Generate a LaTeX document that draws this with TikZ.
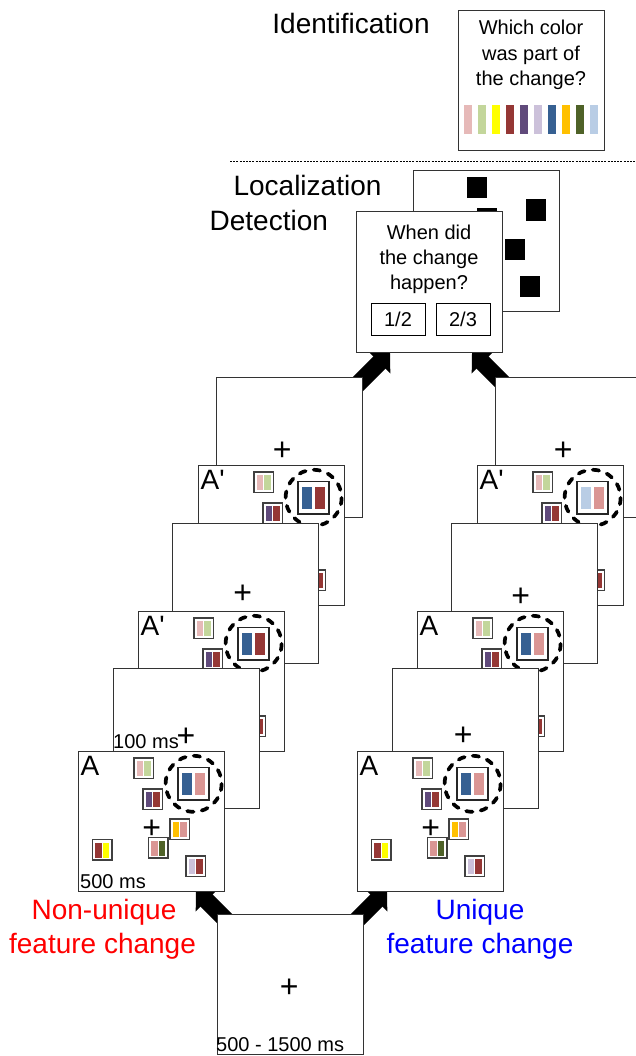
\documentclass[tikz,border=0pt]{standalone}
\usepackage{fontspec}
\setmainfont{Liberation Sans}[Ligatures=TeXOff]
\usetikzlibrary{arrows.meta}
\definecolor{pinkL}{HTML}{E6B9B8}
\definecolor{greenL}{HTML}{C3D69B}
\definecolor{yell}{HTML}{FFFF00}
\definecolor{dred}{HTML}{953735}
\definecolor{purp}{HTML}{604A7B}
\definecolor{lav}{HTML}{CCC1DA}
\definecolor{blueD}{HTML}{366092}
\definecolor{orng}{HTML}{FFC000}
\definecolor{olive}{HTML}{4F6228}
\definecolor{blueL}{HTML}{B9CDE5}
\definecolor{pinkD}{HTML}{DA9694}
\definecolor{lblue}{HTML}{0000FF}
\definecolor{lred}{HTML}{FF0000}
\tikzset{
  frame/.style={draw=black!80, line width=1pt, fill=white, minimum width=146pt, minimum height=140pt, inner sep=0pt, outer sep=0pt, anchor=north west},
  sqb/.style={draw=black!75, line width=1.2pt, fill=white},
  bigb/.style={draw=black!85, line width=1.1pt, fill=white},
  dcirc/.style={draw=black, line width=3.7pt, line cap=round, dash pattern=on 6.4pt off 8.26pt},
  lbl/.style={font=\fontsize{28}{30}\selectfont, inner sep=0pt, anchor=base west},
  big/.style={font=\fontsize{28}{30}\selectfont, inner sep=0pt, anchor=base},
  small/.style={font=\fontsize{20}{24}\selectfont, inner sep=0pt, anchor=base},
  smallw/.style={font=\fontsize{20}{24}\selectfont, inner sep=0pt, anchor=base west},
  plus/.style={font=\fontsize{32}{34}\selectfont, inner sep=0pt, yshift=-1.8pt},
  btn/.style={draw=black, line width=1pt, minimum width=54pt, minimum height=32pt, inner sep=0pt, font=\fontsize{20}{24}\selectfont},
  bigarrow/.style={line width=17pt, draw=black, -{Triangle[width=30pt,length=15pt]}},
  dotline/.style={draw=black, line width=0.8pt, dash pattern=on 2pt off 1.2pt},
}
\newcommand{\sq}[4]{%
  \draw[sqb] (#1,#2) rectangle ++(19.5,20.5);
  \fill[#3] ({#1+2.7},{#2+3}) rectangle ++(6.7,15);
  \fill[#4] ({#1+10.1},{#2+3}) rectangle ++(6.7,15);}
\newcommand{\bigsq}[2]{%
  \draw[bigb] (100,16.5) rectangle ++(31,32.5);
  \fill[#1] (104.3,21.5) rectangle ++(10,22.7);
  \fill[#2] (116.7,21.5) rectangle ++(10,22.7);
  \draw[dcirc] (115.6,32.8) circle [radius=28];}
\newcommand{\stim}[6]{%
  \node[frame] (#1) at (#2,#3) {};
  \begin{scope}[shift={(#2,#3)}]
   \node[lbl] (#1-lab) at (2.5,24) {#4};
   \sq{56}{7}{pinkL}{greenL}
   \sq{65}{38}{purp}{dred}
   \sq{92}{68}{orng}{pinkD}
   \sq{14.5}{88.5}{dred}{yell}
   \sq{70.5}{86.5}{pinkD}{olive}
   \sq{108}{105}{lav}{dred}
   \node[plus] (#1-plus) at (73.7,76.5) {+};
   \bigsq{#5}{#6}
  \end{scope}}
\newcommand{\blankfr}[5]{%
  \node[frame] (#1) at (#2,#3) {};
  \node[plus] (#1-plus) at (#4,#5) {+};}
\begin{document}
\begin{tikzpicture}[x=1pt,y=-1pt]
\useasboundingbox (0,0) rectangle (636,1056);
\clip (0,0) rectangle (636,1056);
% arrows (behind)
\coordinate (tl-s) at (340,402); \coordinate (tl-t) at (390,352);
\coordinate (tr-s) at (522,402); \coordinate (tr-t) at (472,352);
\coordinate (bl-s) at (240,934); \coordinate (bl-t) at (196,890);
\coordinate (br-s) at (343,934); \coordinate (br-t) at (387,890);
\draw[bigarrow] (tl-s) -- (tl-t);
\draw[bigarrow] (tr-s) -- (tr-t);
\draw[bigarrow] (bl-s) -- (bl-t);
\draw[bigarrow] (br-s) -- (br-t);
% identification
\node[big] (ident) at (351,33.3) {Identification};
\node[frame] (idbox) at (458,11) {};
\node[small] (id1) at (531,35) {Which color};
\node[small] (id2) at (531,60.5) {was part of};
\node[small] (id3) at (531,86) {the change?};
\foreach \c [count=\i from 0] in {pinkL,greenL,yell,dred,purp,lav,blueD,orng,olive,blueL}
  \fill[\c] ({464+14*\i},105) rectangle ++(8,29);
\coordinate (dl-a) at (230,161); \coordinate (dl-b) at (636,161);
\draw[dotline] (dl-a) -- (dl-b);
% localization / detection
\node[big] (loclab) at (307.5,196) {Localization};
\node[big] (detlab) at (268.8,231) {Detection};
\node[frame] (locbox) at (413,171) {};
\fill (466.7,177) rectangle ++(20.6,21);
\fill (525.7,199.3) rectangle ++(20,21.4);
\fill (476.7,208.3) rectangle ++(20,20.7);
\fill (505,239) rectangle ++(20,21);
\fill (520,276) rectangle ++(20,21);
\node[frame] (detbox) at (356,212) {};
\node[small] (det1) at (429,240) {When did};
\node[small] (det2) at (429,265) {the change};
\node[small] (det3) at (429,290) {happen?};
\node[btn] (b12) at (398,319) {1/2};
\node[btn] (b23) at (463,319) {2/3};
% left stack
\blankfr{L6}{216}{377}{282.3}{449.3}
\stim{L5}{198}{465}{A'}{blueD}{dred}
\blankfr{L4}{172}{523}{242.7}{592}
\stim{L3}{138}{611}{A'}{blueD}{dred}
\blankfr{L2}{113}{668}{186}{735}
\node[smallw] (t100) at (113,748) {100 ms};
\stim{L1}{78}{751}{A}{blueD}{pinkD}
\node[smallw] (t500) at (80,888) {500 ms};
% right stack
\blankfr{R6}{495}{377}{563.3}{449.3}
\stim{R5}{477}{465}{A'}{blueL}{pinkD}
\blankfr{R4}{451}{523}{520.7}{595.7}
\stim{R3}{417}{611}{A}{blueD}{pinkD}
\blankfr{R2}{392}{668}{463.3}{734.3}
\stim{R1}{357}{751}{A}{blueD}{pinkD}
% bottom
\blankfr{B}{217}{914}{289.3}{986.7}
\node[smallw] (tfix) at (216,1051.5) {500 - 1500 ms};
% condition labels
\node[big, text=lred] (nu1) at (104,919) {Non-unique};
\node[big, text=lred] (nu2) at (102.5,953) {feature change};
\node[big, text=lblue] (u1) at (480,919) {Unique};
\node[big, text=lblue] (u2) at (480,953) {feature change};
\end{tikzpicture}
\end{document}
